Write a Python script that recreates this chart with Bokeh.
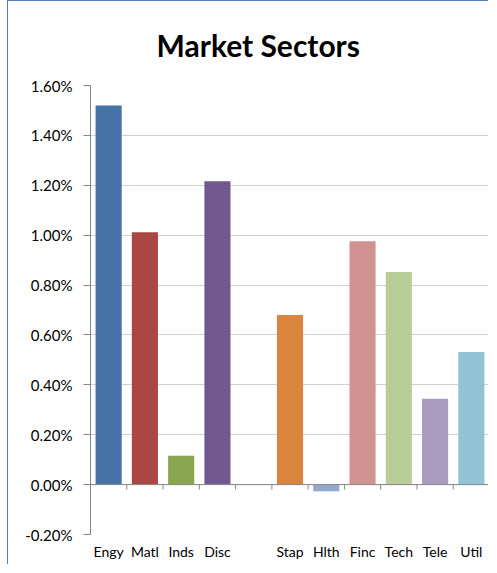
from bokeh.plotting import figure
from bokeh.models import ColumnDataSource, Range1d, FixedTicker, NumeralTickFormatter, Span
from bokeh.embed import file_html
from bokeh.resources import INLINE

title_text = "Market Sectors"
categories = ["Engy", "Matl", "Inds", "Disc", "", "Stap", "Hlth", "Finc", "Tech", "Tele", "Util"]
returns = [0.0152, 0.01012, 0.00116, 0.01216, None, 0.0068, -0.00027, 0.00976, 0.00852, 0.00344, 0.00532]
colors = ["#4572A7", "#AA4643", "#89A54E", "#71588F", None, "#DB843D",
          "#93A9CF", "#D19392", "#B9CD96", "#A99BBD", "#92C3D4"]
y_ticks = [-0.002, 0.0, 0.002, 0.004, 0.006, 0.008, 0.010, 0.012, 0.014, 0.016]

n = len(categories)
centers = [i + 0.5 for i in range(n)]
bar_x = [centers[i] for i in range(n) if returns[i] is not None]
bar_top = [returns[i] for i in range(n) if returns[i] is not None]
bar_color = [colors[i] for i in range(n) if returns[i] is not None]
src = ColumnDataSource(dict(x=bar_x, top=bar_top, color=bar_color))

W, H = 481, 564
ML, MR, MT, MB = 82, 0, 83, 31
y_min, y_max = y_ticks[0], y_ticks[-1]

p = figure(width=W, height=H, x_range=Range1d(0, n), y_range=Range1d(y_min, y_max),
           output_backend="svg", toolbar_location=None,
           min_border_left=ML, min_border_right=MR, min_border_top=MT, min_border_bottom=MB,
           title=title_text)
p.styles = {"margin-left": "7px", "border-left": "1px solid #4F81BD",
            "border-top": "1px solid #4F81BD"}
p.outline_line_color = None
p.background_fill_color = "white"
p.border_fill_color = "white"

p.title.align = "left"
p.title.offset = 66
p.title.text_font = "Lato"
p.title.text_font_size = "30px"
p.title.text_font_style = "bold"
p.title.text_color = "#000000"
p.title.standoff = 46

p.xgrid.grid_line_color = None
p.ygrid.ticker = FixedTicker(ticks=y_ticks)
p.ygrid.grid_line_color = "#D0D0D0"
p.ygrid.grid_line_width = 1

p.yaxis.ticker = FixedTicker(ticks=y_ticks)
p.yaxis.formatter = NumeralTickFormatter(format="0.00%")
p.yaxis.axis_line_color = "#868686"
p.yaxis.major_tick_line_color = "#868686"
p.yaxis.major_tick_out = 7
p.yaxis.major_tick_in = 0
p.yaxis.minor_tick_line_color = None
p.yaxis.major_label_text_font = "Lato"
p.yaxis.major_label_text_font_size = "15px"
p.yaxis.major_label_text_color = "#000000"
p.yaxis.major_label_standoff = 11

p.xaxis.ticker = FixedTicker(ticks=centers)
p.xaxis.major_label_overrides = {c: lab for c, lab in zip(centers, categories)}
p.xaxis.axis_line_color = None
p.xaxis.major_tick_line_color = None
p.xaxis.major_tick_out = 0
p.xaxis.major_tick_in = 0
p.xaxis.minor_tick_line_color = None
p.xaxis.major_label_text_font = "Lato"
p.xaxis.major_label_text_font_size = "14px"
p.xaxis.major_label_text_color = "#000000"
p.xaxis.major_label_standoff = 8

p.vbar(x="x", top="top", bottom=0, width=0.72, fill_color="color", line_color=None, source=src)

frame_h = H - MT - MB
tick_len = 5 * (y_max - y_min) / frame_h
bounds = list(range(1, n + 1))
p.segment(x0=bounds, y0=[0] * len(bounds), x1=bounds, y1=[-tick_len] * len(bounds),
          line_color="#868686", line_width=1)
p.add_layout(Span(location=0, dimension="width", line_color="#868686", line_width=1))

open("out.html", "w").write(file_html(p, INLINE))
